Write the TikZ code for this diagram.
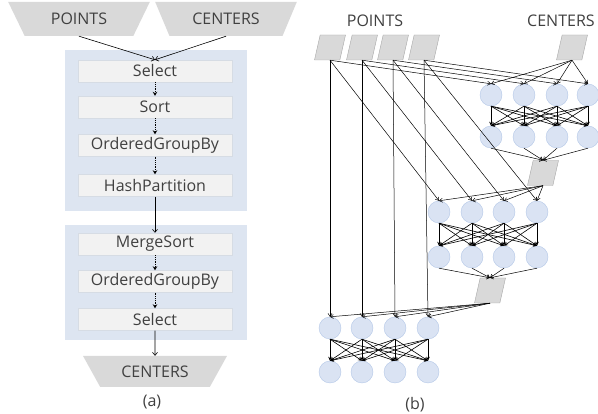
\documentclass[tikz,border=0pt]{standalone}
\usepackage{fontspec}
\setmainfont{Open Sans}
\usetikzlibrary{shapes.geometric,arrows.meta}
\definecolor{txt}{HTML}{404040}
\definecolor{trapgray}{HTML}{D9D9D9}
\definecolor{pargray}{HTML}{A6A6A6}
\definecolor{bgblue}{HTML}{DDE5F1}
\definecolor{opfill}{HTML}{F2F2F2}
\definecolor{opline}{HTML}{D6DCE4}
\definecolor{circfill}{HTML}{DAE3F3}
\definecolor{circline}{HTML}{B4C7E7}
\begin{document}
\begin{tikzpicture}[x=1pt,y=-1pt,
  font=\fontsize{16}{18}\selectfont, text=txt,
  trap/.style={trapezium, trapezium stretches=true, fill=trapgray, draw=none, inner sep=0pt},
  opbox/.style={draw=opline, fill=opfill, minimum width=154pt, minimum height=22pt, inner sep=0pt},
  bgbox/.style={fill=bgblue, draw=none},
  circ/.style={circle, fill=circfill, draw=circline, minimum size=22pt, inner sep=0pt},
  par/.style={trapezium, trapezium left angle=74, trapezium right angle=106, trapezium stretches=true,
    minimum width=31pt, minimum height=25pt, fill=trapgray, draw=pargray, line width=0.4pt, inner sep=1pt},
  ed/.style={-{Straight Barb[length=3pt,width=4pt]}, line width=0.5pt},
  ar/.style={-{Stealth[length=4pt,width=3.5pt]}, line width=0.6pt},
  dot/.style={densely dotted, line width=0.8pt, -{Stealth[length=4pt,width=4.5pt]}},
  sol/.style={line width=0.6pt, -{Straight Barb[length=3pt,width=5pt]}}
]
\useasboundingbox (0,0) rectangle (598,414);

% ---------- (a) ----------
\fill[bgbox] (65,50) rectangle (247,211);
\fill[bgbox] (65,225) rectangle (247,340);

\node[trap, trapezium left angle=126, trapezium right angle=126, minimum width=142pt, minimum height=34pt] (inp) at (79,19) {POINTS};
\node[trap, trapezium left angle=126, trapezium right angle=126, minimum width=142pt, minimum height=34pt] (inc) at (226,19) {CENTERS};
\node[trap, trapezium left angle=132, trapezium right angle=132, minimum width=145pt, minimum height=31pt] (outc) at (155,371.5) {CENTERS};

\node[opbox] (sel1) at (155,71) {Select};
\node[opbox] (sort) at (155,107) {Sort};
\node[opbox] (ogb1) at (155,145.5) {OrderedGroupBy};
\node[opbox] (hash) at (155,185.5) {HashPartition};
\node[opbox] (msort) at (155,244) {MergeSort};
\node[opbox] (ogb2) at (155,281.5) {OrderedGroupBy};
\node[opbox] (sel2) at (155,319.5) {Select};

\draw[sol] (inp.south) -- (sel1.north);
\draw[sol] (inc.south) -- (sel1.north);
\draw[dot] (sel1.south) -- (sort.north);
\draw[dot] (sort.south) -- (ogb1.north);
\draw[dot] (ogb1.south) -- (hash.north);
\draw[sol] (hash.south) -- (msort.north);
\draw[dot] (msort.south) -- (ogb2.north);
\draw[dot] (ogb2.south) -- (sel2.north);
\draw[sol] (sel2.south) -- (outc.north);

\node (la) at (152,402) {(a)};

% ---------- (b) ----------
\node (lpts) at (375,21) {POINTS};
\node[anchor=west, inner sep=0pt] (lctr) at (527,21) {CENTERS};

\foreach \i/\x in {1/330,2/362,3/393,4/424} \node[par] (p\i) at (\x,47.5) {};
\node[par] (cb) at (572,47.5) {};

\foreach \i/\x in {1/491,2/524,3/557,4/588} {
  \node[circ] (a\i) at (\x,95) {};
  \node[circ] (b\i) at (\x,137) {};
}
\node[par] (m1) at (543,173) {};
\foreach \i/\x in {1/439,2/472,3/504,4/537} {
  \node[circ] (c\i) at (\x,212) {};
  \node[circ] (d\i) at (\x,257) {};
}
\node[par] (m2) at (490,290.5) {};
\foreach \i/\x in {1/330,2/362,3/395,4/428} {
  \node[circ] (e\i) at (\x,328) {};
  \node[circ] (f\i) at (\x,372) {};
}

\foreach \i in {1,...,4} {
  \draw[ed] (p\i.south) -- (a\i.north);
  \draw[ed] (p\i.south) -- (c\i.north);
  \draw[ed] (p\i.south) -- (e\i.north);
  \draw[ed] (cb.south) -- (a\i.north);
  \draw[ed] (b\i.south) -- (m1.north);
  \draw[ed] (m1.south) -- (c\i.north);
  \draw[ed] (d\i.south) -- (m2.north);
  \draw[ed] (m2.south) -- (e\i.north);
  \foreach \j in {1,...,4} {
    \draw[ar] (a\i.south) -- (b\j.north);
    \draw[ar] (c\i.south) -- (d\j.north);
    \draw[ar] (e\i.south) -- (f\j.north);
  }
}

\node (lb) at (415,405) {(b)};
\end{tikzpicture}
\end{document}
